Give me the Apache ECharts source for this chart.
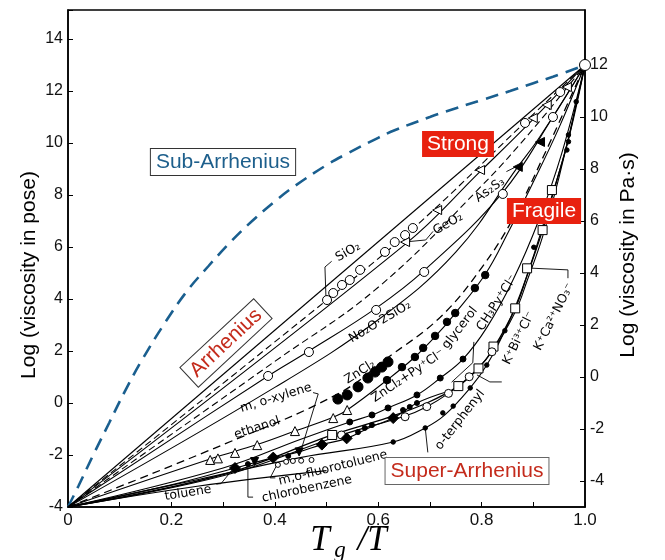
<!DOCTYPE html>
<html><head><meta charset="utf-8">
<script src="https://cdn.jsdelivr.net/npm/echarts@6/dist/echarts.min.js"></script>
<style>html,body{margin:0;padding:0;background:#fff}#c{width:665px;height:560px}</style>
</head><body><div id="c"></div>
<script>
// ---------- tick labels ----------
const leftTicks = [-4,-2,0,2,4,6,8,10,12,14];
const rightTicks = [-4,-2,0,2,4,6,8,10,12];

// ---------- curves (x = Tg/T, y = log viscosity in poise) ----------
const subArrhenius = [[0,-4],[0.02,-3.2],[0.05,-1.95],[0.08,-0.75],[0.11,0.45],[0.143,1.65],[0.188,3.1],[0.23,4.3],[0.271,5.25],[0.31,6.1],[0.348,6.85],[0.4,7.75],[0.439,8.35],[0.5,9.15],[0.536,9.55],[0.6,10.2],[0.633,10.5],[0.7,11.0],[0.729,11.2],[0.8,11.65],[0.855,12.0],[0.9,12.3],[0.938,12.55],[0.99,12.92]];
const arrheniusLine = [[0,-4],[1,13]];
const sio2Dashed = [[0,-4],[0.5,3.95],[0.667,6.7],[0.884,10.8],[1,13]];
const geo2Line = [[0,-4],[0.652,6.1],[0.797,8.9],[0.899,10.9],[1,13]];
const midDashed = [[0,-4],[0.4,1.6],[0.6,4.45],[0.8,8.35],[0.9,10.55],[1,13]];
const na2oLine = [[0,-4],[0.387,1.04],[0.466,2.0],[0.596,3.65],[0.689,5.1],[0.841,8.1],[0.938,11.0],[1,13]];
const as2s3Line = [[0,-4],[0.4,0.6],[0.6,3.2],[0.75,5.8],[0.870,9.08],[0.913,10.25],[1,13]];
const zncl2Dashed = [[0,-4],[0.3,-1.6],[0.522,0.35],[0.619,1.75],[0.72,3.3],[0.8,5.2],[0.861,7.1],[0.92,9.5],[1,13]];
const ethanolGlycerolLine = [[0,-4],[0.275,-2.15],[0.366,-1.6],[0.439,-1.08],[0.513,-0.55],[0.540,-0.27],[0.617,0.88],[0.671,1.77],[0.710,2.55],[0.749,3.45],[0.807,4.95],[0.851,6.55],[0.9,8.5],[0.95,10.6],[1,13]];
const pyLine = [[0,-4],[0.3,-2.5],[0.449,-1.4],[0.545,-0.73],[0.588,-0.46],[0.619,-0.19],[0.675,0.31],[0.720,0.96],[0.764,1.69],[0.81,2.9],[0.86,4.7],[0.91,7.0],[0.955,9.6],[1,13]];
const kCaLine = [[0,-4],[0.3,-2.75],[0.511,-1.23],[0.62,-0.55],[0.694,0.0],[0.755,0.65],[0.794,1.33],[0.823,2.1],[0.865,3.64],[0.888,4.9],[0.918,6.65],[0.936,7.9],[0.97,10.3],[1,13]];
const kBiLine = [[0,-4],[0.3,-2.8],[0.529,-1.23],[0.652,-0.5],[0.694,-0.14],[0.736,0.37],[0.776,1.01],[0.820,1.97],[0.865,3.5],[0.888,4.7],[0.918,6.4],[0.95,8.7],[1,13]];
const diamondLine = [[0,-4],[0.2,-3.15],[0.323,-2.5],[0.397,-2.1],[0.447,-1.88],[0.491,-1.6],[0.539,-1.36],[0.588,-0.9],[0.629,-0.58],[0.675,0.0],[0.736,0.45]];
const oTerphenylLine = [[0,-4],[0.25,-2.95],[0.449,-2.1],[0.629,-1.5],[0.691,-0.96],[0.729,-0.46],[0.778,0.58],[0.810,1.46],[0.845,2.78],[0.875,4.2],[0.901,5.7],[0.935,7.9],[0.966,10.0],[0.983,11.5],[1,13]];
const tolueneLine = [[0,-4],[0.25,-3.2],[0.5,-2.6]];

// ---------- data points ----------
const sio2Pts = [[0.501,3.96],[0.513,4.23],[0.530,4.54],[0.545,4.73],[0.565,5.12],[0.613,5.81],[0.632,6.19],[0.652,6.46],[0.667,6.73],[0.884,10.77],[0.952,11.96]];
const geo2Pts = [[0.652,6.19],[0.714,7.42],[0.797,8.96],[0.899,10.96],[0.926,11.46],[0.965,12.15]];
const na2oPts = [[0.387,1.04],[0.466,1.96],[0.596,3.58],[0.689,5.04],[0.841,8.04],[0.938,11.0]];
const as2s3Pts = [[0.870,9.08],[0.913,10.04]];
const zncl2Pts = [[0.522,0.15],[0.540,0.31],[0.561,0.62],[0.580,0.96],[0.594,1.19],[0.607,1.38],[0.619,1.58]];
const glycerolPts = [[0.617,0.88],[0.646,1.38],[0.671,1.77],[0.687,2.12],[0.710,2.58],[0.733,3.12],[0.749,3.46],[0.787,4.42],[0.807,4.92]];
const pyPts = [[0.545,-0.73],[0.588,-0.46],[0.619,-0.19],[0.675,0.31],[0.720,0.96],[0.764,1.69]];
const xylenePts = [[0.275,-2.19],[0.290,-2.13],[0.323,-1.92],[0.366,-1.62],[0.439,-1.08],[0.513,-0.58],[0.540,-0.27]];
const kCaPts = [[0.511,-1.23],[0.755,0.65],[0.794,1.33],[0.823,2.17],[0.865,3.64],[0.888,5.18],[0.918,6.65],[0.936,8.19]];
const kBiPts = [[0.529,-1.23],[0.652,-0.53],[0.694,-0.14],[0.736,0.37],[0.776,1.01],[0.820,1.97]];
const diamondPts = [[0.323,-2.5],[0.397,-2.1],[0.491,-1.6],[0.539,-1.36],[0.629,-0.58]];
const downTriPts = [[0.361,-2.25],[0.447,-1.88]];
const smallDotPts = [[0.348,-2.35],[0.426,-2.04],[0.561,-1.12],[0.574,-0.96],[0.588,-0.85],[0.648,-0.27],[0.661,-0.15],[0.675,0.0]];
const fluoroPts = [[0.406,-2.38],[0.422,-2.26],[0.435,-2.23],[0.451,-2.22],[0.471,-2.19]];
const oTerphPts = [[0.629,-1.5],[0.691,-0.96],[0.725,-0.38],[0.745,-0.12],[0.778,0.58],[0.810,1.46],[0.845,2.78],[0.901,5.99],[0.965,9.73],[0.968,10.05],[0.968,10.31],[0.983,11.59]];
const glassPoint = [[1,13]];

// ---------- leader lines ----------
const sio2Pointer = [[0.499,4.04],[0.497,5.23],[0.51,5.45]];
const geo2Pointer = [[0.655,6.2],[0.692,6.27],[0.706,6.6]];
const as2s3Pointer = [[0.848,8.9],[0.866,9.08]];
const xylenePointer = [[0.474,0.4],[0.484,0.35],[0.451,-1.8]];
const toluenePointer = [[0.287,-3.12],[0.296,-3.1],[0.32,-2.52]];
const chloroPointer = [[0.348,-2.35],[0.348,-3.62],[0.358,-3.62]];
const fluoroPointer = [[0.403,-2.42],[0.391,-2.88],[0.401,-2.88]];
const oTerphPointer = [[0.691,-0.96],[0.696,-1.9]];
const kBiPointer = [[0.791,1.08],[0.816,0.81],[0.839,0.81]];
const kCaPointer = [[0.892,5.19],[0.967,5.12],[0.967,4.8]];
const chPointer = [[0.785,2.35],[0.783,1.55],[0.742,0.8]];

// ---------- curve labels ----------
const curveLabels = [
  ['SiO₂',348,252,30],['GeO₂',448,224,30],['As₂S₃',490,190,35],['No₂O·2SiO₂',380,322,31],
  ['ZnCl₂',360,372,32],['glycerol',460,328,52],['ZnCl₂+Py⁺Cl⁻',408,376,34],['CH₃Py⁺Cl⁻',497,303,57],
  ['K⁺Bi³⁺Cl⁻',519,338,64],['K⁺Ca²⁺NO₃⁻',554,317,63],['o-terphenyl',460,420,52],
  ['m, o-xylene',276,398,17],['ethanol',257,428,18],['m,o-fluorotoluene',333,468,14],
  ['toluene',188,493,9],['chlorobenzene',307,489,12]
];

const chart = echarts.init(document.getElementById('c'), null, {renderer:'canvas'});

function ln(data, dashed, color, width, smooth){
  return {type:'line', data:data, symbol:'none', showSymbol:false, silent:true,
    smooth: smooth===false?false:0.4,
    lineStyle:{color:color||'#000', width:width||1.1, type: dashed?(Array.isArray(dashed)?dashed:[7,4]):'solid'}, z:2};
}
function pts(data, symbol, size, filled, rot){
  return {type:'scatter', data:data, symbol:symbol, symbolSize:size, symbolRotate:rot||0, silent:true,
    itemStyle:{color: filled?'#000':'#fff', borderColor:'#000', borderWidth:1, opacity:1}, z:5};
}
const series = [
  ln(subArrhenius,[13,8],'#1a5f8f',2.6),
  ln(arrheniusLine,false),
  ln(sio2Dashed,true),
  ln(geo2Line,false),
  ln(midDashed,true),
  ln(na2oLine,false),
  ln(as2s3Line,false),
  ln(zncl2Dashed,[8,5],'#000',1.3),
  ln(ethanolGlycerolLine,false),
  ln(pyLine,false),
  ln(kCaLine,false,'#000',1.3),
  ln(kBiLine,false),
  ln(diamondLine,false),
  ln(oTerphenylLine,false),
  ln(tolueneLine,false),
  ln(sio2Pointer,false,'#000',0.9,false),
  ln(geo2Pointer,false,'#000',0.9,false),
  ln(as2s3Pointer,false,'#000',0.9,false),
  ln(xylenePointer,false,'#000',0.9,false),
  ln(toluenePointer,false,'#000',0.9,false),
  ln(chloroPointer,false,'#000',0.9,false),
  ln(fluoroPointer,false,'#000',0.9,false),
  ln(oTerphPointer,false,'#000',0.9,false),
  ln(kBiPointer,false,'#000',0.9,false),
  ln(kCaPointer,false,'#000',0.9,false),
  ln(chPointer,false,'#000',0.9,false),
  pts(sio2Pts,'circle',9,false),
  pts(geo2Pts,'triangle',9,false,90),
  pts(na2oPts,'circle',9,false),
  pts(as2s3Pts,'triangle',9,true,90),
  pts(zncl2Pts,'circle',10,true),
  pts(glycerolPts,'circle',7.5,true),
  pts(pyPts,'circle',6,true),
  pts(xylenePts,'triangle',9,false),
  pts(kCaPts,'rect',9,false),
  pts(kBiPts,'circle',8,false),
  pts(diamondPts,'diamond',11,true),
  pts(downTriPts,'triangle',8,true,180),
  pts(smallDotPts,'circle',5,true),
  pts(fluoroPts,'circle',5,false),
  pts(oTerphPts,'circle',4.5,true),
  pts(glassPoint,'circle',11,false)
];

const font = 'Liberation Sans, Arial, sans-serif';
const graphics = [];
curveLabels.forEach(function(l){
  graphics.push({type:'text', x:l[1], y:l[2], rotation:l[3]*Math.PI/180, z:50,
    style:{text:l[0], fill:'#000', font:'12.5px "DejaVu Sans", sans-serif', align:'center', verticalAlign:'middle'}});
});
function box(text,x,y,opt){
  graphics.push({type:'text', x:x, y:y, rotation:(opt.rot||0)*Math.PI/180, z:60,
    style:Object.assign({text:text, font:'21px '+font, align:'center', verticalAlign:'middle', padding:[3,5,2,5]}, opt.style)});
}
box('Sub-Arrhenius',223,162,{style:{fill:'#1d5f8c', backgroundColor:'#fff', borderColor:'#333', borderWidth:1}});
box('Strong',458,144,{style:{fill:'#fff', backgroundColor:'#e8210f'}});
box('Fragile',544,211,{style:{fill:'#fff', backgroundColor:'#e8210f'}});
box('Arrhenius',226,343,{rot:43,style:{fill:'#c42b1c', backgroundColor:'#fff', borderColor:'#333', borderWidth:1}});
box('Super-Arrhenius',467,471,{style:{fill:'#c42b1c', backgroundColor:'#fff', borderColor:'#666', borderWidth:1}});
// axis titles
graphics.push({type:'text', x:29, y:275, rotation:Math.PI/2, z:60,
  style:{text:'Log (viscosity in pose)', font:'21px '+font, fill:'#000', align:'center', verticalAlign:'middle'}});
graphics.push({type:'text', x:628, y:255, rotation:Math.PI/2, z:60,
  style:{text:'Log (viscosity in Pa·s)', font:'21px '+font, fill:'#000', align:'center', verticalAlign:'middle'}});
const serif = '"Liberation Serif", "DejaVu Serif", serif';
graphics.push({type:'text', x:320, y:541, z:60, style:{text:'T', font:'italic 35px '+serif, fill:'#000', align:'center', verticalAlign:'middle'}});
graphics.push({type:'text', x:340, y:551, z:60, style:{text:'g', font:'italic 23px '+serif, fill:'#000', align:'center', verticalAlign:'middle'}});
graphics.push({type:'text', x:372, y:541, z:60, style:{text:'/T', font:'italic 35px '+serif, fill:'#000', align:'center', verticalAlign:'middle'}});

chart.setOption({
  animation:false,
  backgroundColor:'#fff',
  grid:{left:68, right:80, top:10, bottom:53, show:true, borderColor:'#000', borderWidth:1.5, backgroundColor:'transparent'},
  xAxis:{type:'value', min:0, max:1, interval:0.1,
    axisLine:{onZero:false, lineStyle:{color:'#000', width:1.5}},
    axisTick:{inside:true, length:5, lineStyle:{color:'#000', width:1}},
    splitLine:{show:false},
    axisLabel:{color:'#111', fontSize:17, fontFamily:font, margin:5, formatter:function(v){
      const k = Math.round(v*10); if (k%2!==0) return ''; if (k===0) return '0'; return (k/10).toFixed(1);}}},
  yAxis:[
    {type:'value', min:-4, max:15.115, interval:2, position:'left',
      axisLine:{show:true, onZero:false, lineStyle:{color:'#000', width:1.5}},
      axisTick:{show:true, inside:true, length:5, lineStyle:{color:'#000'}},
      splitLine:{show:false},
      axisLabel:{color:'#111', fontSize:16, fontFamily:font, margin:5, formatter:function(v){
        const r = Math.round(v); if (Math.abs(v-r)>1e-6 || r%2!==0 || r>14) return ''; return String(r);}}},
    {type:'value', min:-5, max:14.115, position:'right',
      axisLine:{show:true, onZero:false, lineStyle:{color:'#000', width:1.5}},
      axisTick:{show:true, inside:true, length:5, customValues:rightTicks, lineStyle:{color:'#000'}},
      splitLine:{show:false},
      axisLabel:{color:'#111', fontSize:16, fontFamily:font, margin:5, customValues:rightTicks}}
  ],
  series:series,
  graphic:graphics
});
</script></body></html>
